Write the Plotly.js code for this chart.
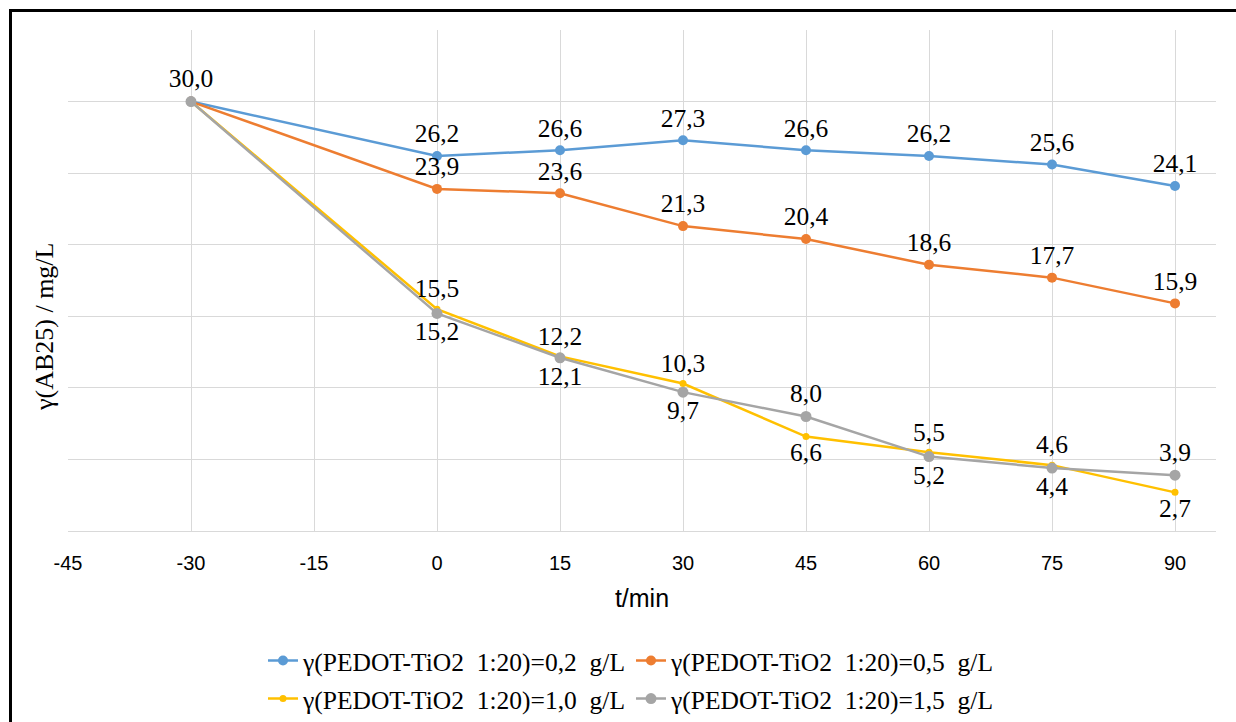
<!DOCTYPE html>
<html>
<head>
<meta charset="utf-8">
<script src="https://cdn.plot.ly/plotly-3.0.1.min.js"></script>
<style>
html,body{margin:0;padding:0;background:#fff;}
#wrap{position:relative;width:1236px;height:722px;}
#chart{width:1236px;height:722px;}
#frame{position:absolute;left:9px;top:9px;width:1300px;height:800px;border-left:3px solid #000;border-top:3px solid #000;pointer-events:none;}
</style>
</head>
<body>
<div id="wrap"><div id="chart"></div><div id="frame"></div></div>
<script>
const times = [-30, 0, 15, 30, 45, 60, 75, 90];
const seriesNames = [
  'γ(PEDOT-TiO2\u00a0 1:20)=0,2\u00a0 g/L',
  'γ(PEDOT-TiO2\u00a0 1:20)=0,5\u00a0 g/L',
  'γ(PEDOT-TiO2\u00a0 1:20)=1,0\u00a0 g/L',
  'γ(PEDOT-TiO2\u00a0 1:20)=1,5\u00a0 g/L'
];
const conc02 = [30.0, 26.2, 26.6, 27.3, 26.6, 26.2, 25.6, 24.1];
const conc05 = [30.0, 23.9, 23.6, 21.3, 20.4, 18.6, 17.7, 15.9];
const conc10 = [30.0, 15.5, 12.2, 10.3, 6.6, 5.5, 4.6, 2.7];
const conc15 = [30.0, 15.2, 12.1, 9.7, 8.0, 5.2, 4.4, 3.9];
const xTicks = [-45, -30, -15, 0, 15, 30, 45, 60, 75, 90];

const fmt = v => v.toFixed(1).replace('.', ',');
const labels = (arr, showFirst) => arr.map((v, i) => (i === 0 && !showFirst) ? '' : fmt(v));

const SERIF = 'Liberation Serif';
const SANS = 'Liberation Sans';

const colors = ['#5B9BD5', '#ED7D31', '#FFC000', '#A5A5A5'];
const sizes = [10, 10, 7, 11];
const positions = [
  Array(8).fill('top center'),
  Array(8).fill('top center'),
  ['top center','top center','top center','top center','bottom center','top center','top center','bottom center'],
  ['top center','bottom center','bottom center','bottom center','top center','bottom center','bottom center','top center']
];
const data = [conc02, conc05, conc10, conc15];
const legends = ['legend', 'legend', 'legend2', 'legend2'];

const traces = data.map((arr, k) => ({
  x: times,
  y: arr,
  name: seriesNames[k],
  type: 'scatter',
  mode: 'lines+markers+text',
  line: {color: colors[k], width: 2.5},
  marker: {color: colors[k], size: sizes[k]},
  text: labels(arr, k === 3),
  textposition: positions[k],
  textfont: {family: SERIF, size: 25.5, color: '#000'},
  cliponaxis: false,
  legend: legends[k],
  showlegend: true
}));

const layout = {
  width: 1236,
  height: 722,
  margin: {l: 68, r: 20, t: 30, b: 191, autoexpand: false},
  paper_bgcolor: '#fff',
  plot_bgcolor: '#fff',
  font: {family: SERIF, size: 24, color: '#000'},
  showlegend: true,
  xaxis: {
    range: [-45, 95],
    tickvals: xTicks,
    ticktext: xTicks.map(String),
    showgrid: true,
    gridcolor: '#d9d9d9',
    gridwidth: 1,
    zeroline: false,
    showline: true,
    linecolor: '#d9d9d9',
    linewidth: 1,
    ticks: '',
    tickfont: {family: SANS, size: 20, color: '#000'},
    ticklabelstandoff: 14,
    title: {text: 't/min', font: {family: SANS, size: 25, color: '#000'}, standoff: 16}
  },
  yaxis: {
    range: [0, 35],
    dtick: 5,
    tick0: 0,
    showgrid: true,
    gridcolor: '#d9d9d9',
    gridwidth: 1,
    zeroline: false,
    showline: false,
    showticklabels: false,
    ticks: ''
  },
  annotations: [{
    text: 'γ(AB25) / mg/L',
    xref: 'paper', yref: 'paper',
    x: (44 - 68) / 1148, y: (531 - 327) / 501,
    xanchor: 'center', yanchor: 'middle',
    textangle: -90,
    showarrow: false,
    font: {family: SERIF, size: 26, color: '#000'}
  }],
  legend: {
    orientation: 'h',
    xref: 'container', yref: 'container',
    x: 631 / 1236, xanchor: 'center',
    y: 1 - 661 / 722, yanchor: 'middle',
    font: {family: SERIF, size: 25.5, color: '#000'},
    bgcolor: 'rgba(0,0,0,0)'
  },
  legend2: {
    orientation: 'h',
    xref: 'container', yref: 'container',
    x: 631 / 1236, xanchor: 'center',
    y: 1 - 699 / 722, yanchor: 'middle',
    font: {family: SERIF, size: 25.5, color: '#000'},
    bgcolor: 'rgba(0,0,0,0)'
  }
};

Plotly.newPlot('chart', traces, layout, {displayModeBar: false, staticPlot: true});
</script>
</body>
</html>
